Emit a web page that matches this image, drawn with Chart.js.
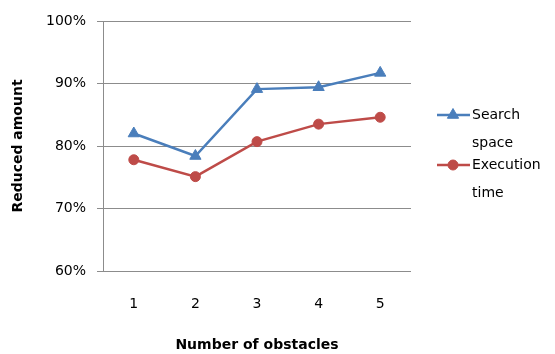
<!DOCTYPE html>
<html>
<head>
<meta charset="utf-8">
<script src="https://cdn.jsdelivr.net/npm/chart.js@4/dist/chart.umd.min.js"></script>
<style>
  html, body { margin: 0; padding: 0; background: #fff; }
  #wrap { width: 555px; height: 354px; }
</style>
</head>
<body>
<div id="wrap"><canvas id="c" width="555" height="354"></canvas></div>
<script>
// Number of obstacles on the x axis
const categories = ['1', '2', '3', '4', '5'];
// Reduced amount in percent
const searchSpace = [82.0, 78.4, 89.1, 89.4, 91.7];
const executionTime = [77.8, 75.1, 80.7, 83.5, 84.6];
const seriesNames = [['Search', 'space'], ['Execution', 'time']];

const BLUE = '#4A7EBB';
const RED = '#BE4B48';
const FONT = '"DejaVu Sans", sans-serif';

// Legend at the right, each name wrapping over two lines
const sideLegend = {
  id: 'sideLegend',
  afterDraw(chart) {
    const ctx = chart.ctx;
    const rows = [
      { y: 115, ds: chart.data.datasets[0] },
      { y: 165, ds: chart.data.datasets[1] }
    ];
    rows.forEach(r => {
      const ds = r.ds;
      ctx.save();
      ctx.strokeStyle = ds.borderColor;
      ctx.fillStyle = ds.backgroundColor;
      ctx.lineWidth = 2.5;
      ctx.beginPath();
      ctx.moveTo(437, r.y);
      ctx.lineTo(470, r.y);
      ctx.stroke();
      ctx.lineWidth = 1;
      Chart.helpers.drawPoint(ctx, {
        pointStyle: ds.pointStyle,
        radius: ds.pointRadius,
        borderWidth: 1
      }, 453, r.y);
      ctx.fillStyle = '#000';
      ctx.font = '14px ' + FONT;
      ctx.textBaseline = 'middle';
      ctx.textAlign = 'left';
      ds.label.forEach((line, i) => ctx.fillText(line, 472, r.y + i * 28));
      ctx.restore();
    });
  }
};

new Chart(document.getElementById('c'), {
  type: 'line',
  data: {
    labels: categories,
    datasets: [
      {
        label: seriesNames[0],
        data: searchSpace,
        borderColor: BLUE,
        backgroundColor: BLUE,
        borderWidth: 2.5,
        pointStyle: 'triangle',
        pointRadius: 6.5,
        pointBorderWidth: 1,
        tension: 0
      },
      {
        label: seriesNames[1],
        data: executionTime,
        borderColor: RED,
        backgroundColor: RED,
        borderWidth: 2.5,
        pointStyle: 'circle',
        pointRadius: 5,
        pointBorderWidth: 1,
        tension: 0
      }
    ]
  },
  options: {
    responsive: false,
    animation: false,
    devicePixelRatio: 1,
    layout: { padding: { top: 21, right: 144, left: 0, bottom: 0 } },
    plugins: {
      legend: { display: false },
      tooltip: { enabled: false }
    },
    scales: {
      x: {
        offset: true,
        grid: { display: false, drawTicks: false },
        border: { display: false },
        ticks: { color: '#000', font: { family: FONT, size: 14 }, padding: 25 },
        title: {
          display: true,
          text: 'Number of obstacles',
          color: '#000',
          font: { family: FONT, size: 14, weight: 'bold' },
          padding: { top: 0, bottom: 0 }
        },
        afterFit(scale) { scale.height = 83; }
      },
      y: {
        min: 60,
        max: 100,
        ticks: {
          stepSize: 10,
          color: '#000',
          font: { family: FONT, size: 14 },
          padding: 11,
          callback: v => v + '%'
        },
        grid: { color: '#8C8C8C', lineWidth: 1, tickLength: 6, drawTicks: true },
        border: { display: true, color: '#8C8C8C', width: 1 },
        title: {
          display: true,
          text: 'Reduced amount',
          color: '#000',
          font: { family: FONT, size: 14, weight: 'bold' },
          padding: { top: 10, bottom: 0 }
        },
        afterFit(scale) { scale.width = 103; }
      }
    }
  },
  plugins: [sideLegend]
});
</script>
</body>
</html>
